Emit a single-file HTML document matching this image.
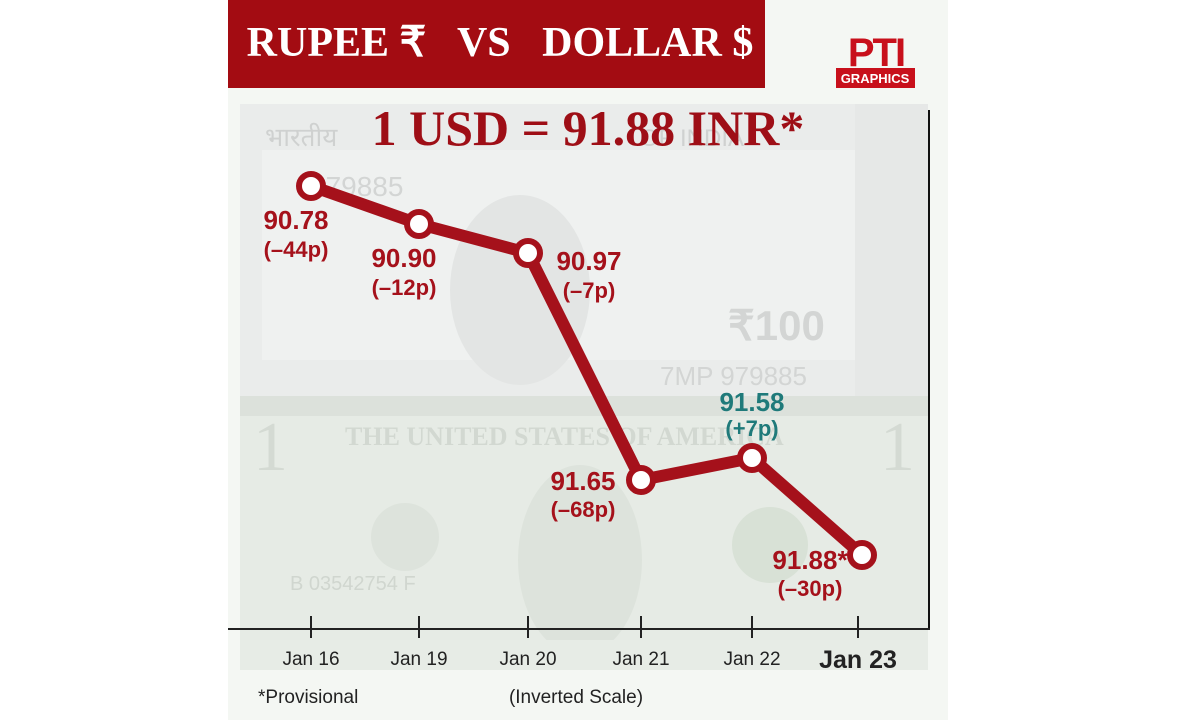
<!DOCTYPE html>
<html><head><meta charset="utf-8"><style>
body{margin:0;width:1200px;height:720px;background:#fff;overflow:hidden;font-family:"Liberation Sans",sans-serif}
</style></head><body>
<svg width="1200" height="720" viewBox="0 0 1200 720" xmlns="http://www.w3.org/2000/svg">
<rect x="228" y="0" width="720" height="720" fill="#f4f7f3"/>
<rect x="240" y="104" width="688" height="292" fill="#eaeceb"/>
<rect x="262" y="150" width="600" height="210" fill="#eff1f0"/>
<rect x="855" y="104" width="73" height="292" fill="#e6e8e7"/>
<text x="265" y="146" font-size="26" fill="#cfd1d0">भारतीय</text>
<text x="640" y="146" font-size="24" fill="#cfd1d0">OF INDIA</text>
<text x="310" y="196" font-size="28" fill="#d3d5d4">979885</text>
<text x="728" y="340" font-size="42" font-weight="bold" fill="#d3d5d4">₹100</text>
<text x="660" y="385" font-size="26" fill="#d3d5d4">7MP 979885</text>
<ellipse cx="520" cy="290" rx="70" ry="95" fill="#e3e5e4"/>
<rect x="240" y="396" width="688" height="274" fill="#e6ebe5"/>
<rect x="240" y="396" width="688" height="20" fill="#dce1db"/>
<text x="345" y="445" font-size="26" font-family="Liberation Serif, serif" font-weight="bold" fill="#d2d8d1">THE UNITED STATES OF AMERICA</text>
<circle cx="405" cy="537" r="34" fill="#dde3dc"/>
<ellipse cx="580" cy="560" rx="62" ry="95" fill="#dde3dc"/>
<circle cx="770" cy="545" r="38" fill="#d8e1d6"/>
<text x="253" y="470" font-size="70" font-family="Liberation Serif, serif" fill="#d4dad3">1</text>
<text x="880" y="470" font-size="70" font-family="Liberation Serif, serif" fill="#d4dad3">1</text>
<text x="290" y="590" font-size="20" fill="#d0d6cf">B 03542754 F</text>
<rect x="240" y="640" width="688" height="30" fill="#e7ece6"/>
<rect x="228" y="0" width="537" height="88" fill="#a30c12"/>
<text x="500" y="56" text-anchor="middle" font-family="Liberation Serif, serif" font-weight="bold" font-size="42" fill="#fff">RUPEE ₹ &#160; VS &#160; DOLLAR $</text>
<text x="876" y="66" text-anchor="middle" font-family="Liberation Sans, sans-serif" font-weight="bold" font-size="40" fill="#c8101b" letter-spacing="-2">PTI</text>
<rect x="836" y="68" width="79" height="20" fill="#c8101b"/>
<text x="875" y="83" text-anchor="middle" font-size="13" font-weight="bold" fill="#fff">GRAPHICS</text>
<text x="588" y="145" text-anchor="middle" font-family="Liberation Serif, serif" font-weight="bold" font-size="50" fill="#9e0e16">1 USD = 91.88 INR*</text>
<line x1="929" y1="110" x2="929" y2="629" stroke="#111" stroke-width="2"/>
<line x1="228" y1="629" x2="930" y2="629" stroke="#222" stroke-width="2"/>
<g stroke="#222" stroke-width="2">
<line x1="311" y1="616" x2="311" y2="638"/><line x1="419" y1="616" x2="419" y2="638"/>
<line x1="528" y1="616" x2="528" y2="638"/><line x1="641" y1="616" x2="641" y2="638"/>
<line x1="752" y1="616" x2="752" y2="638"/><line x1="858" y1="616" x2="858" y2="638"/>
</g>
<g font-size="19" fill="#222" text-anchor="middle">
<text x="311" y="665">Jan 16</text><text x="419" y="665">Jan 19</text><text x="528" y="665">Jan 20</text>
<text x="641" y="665">Jan 21</text><text x="752" y="665">Jan 22</text>
<text x="858" y="668" font-size="25" font-weight="bold">Jan 23</text>
</g>
<text x="258" y="703" font-size="19" fill="#222">*Provisional</text>
<text x="576" y="703" font-size="19" fill="#222" text-anchor="middle">(Inverted Scale)</text>
<polyline points="311,186 419,224 528,253 641,480 752,458 862,555" fill="none" stroke="#a5111b" stroke-width="12" stroke-linejoin="round"/>
<g fill="#fff" stroke="#a5111b" stroke-width="6">
<circle cx="311" cy="186" r="12"/><circle cx="419" cy="224" r="12"/><circle cx="528" cy="253" r="12"/>
<circle cx="641" cy="480" r="12"/><circle cx="752" cy="458" r="12"/><circle cx="862" cy="555" r="12"/>
</g>
<g font-size="26" font-weight="bold" fill="#a5111b" text-anchor="middle">
<text x="296" y="229">90.78</text><text x="296" y="257" font-size="22">(–44p)</text>
<text x="404" y="267">90.90</text><text x="404" y="295" font-size="22">(–12p)</text>
<text x="589" y="270">90.97</text><text x="589" y="298" font-size="22">(–7p)</text>
<text x="583" y="490">91.65</text><text x="583" y="517" font-size="22">(–68p)</text>
<text x="810" y="569">91.88*</text><text x="810" y="596" font-size="22">(–30p)</text>
<text x="752" y="411" fill="#1f7a7a">91.58</text><text x="752" y="436" font-size="22" fill="#1f7a7a">(+7p)</text>
</g>
</svg>
</body></html>
